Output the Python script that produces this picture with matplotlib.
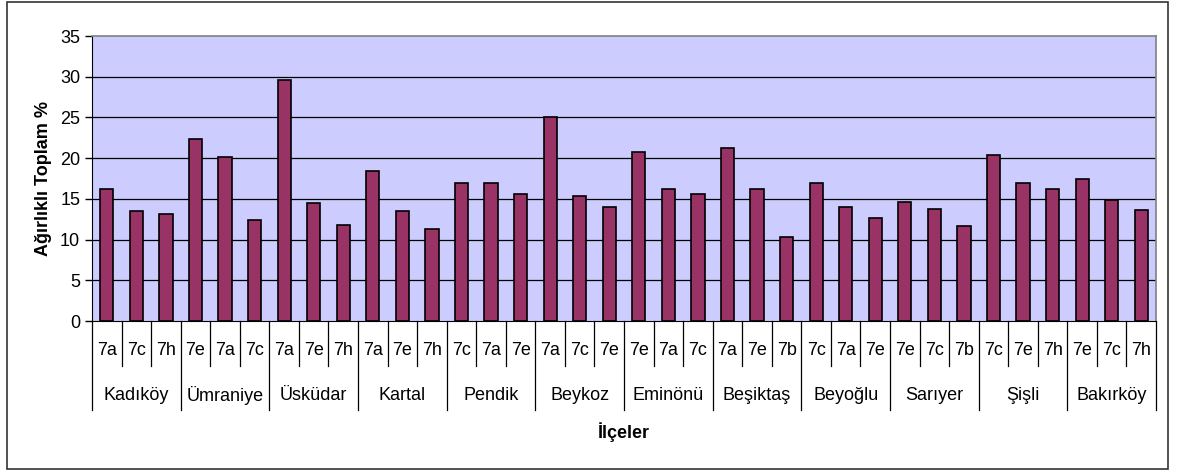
import numpy as np
import matplotlib as mpl
mpl.use('Agg')
import matplotlib.pyplot as plt
from matplotlib.patches import Rectangle

plt.rcParams['font.family'] = ['Liberation Sans', 'DejaVu Sans']

districts = ['Kadıköy', 'Ümraniye', 'Üsküdar', 'Kartal', 'Pendik', 'Beykoz',
             'Eminönü', 'Beşiktaş', 'Beyoğlu', 'Sarıyer', 'Şişli', 'Bakırköy']
codes = ['7a', '7c', '7h', '7e', '7a', '7c', '7a', '7e', '7h', '7a', '7e', '7h',
         '7c', '7a', '7e', '7a', '7c', '7e', '7e', '7a', '7c', '7a', '7e', '7b',
         '7c', '7a', '7e', '7e', '7c', '7b', '7c', '7e', '7h', '7e', '7c', '7h']
values = [16.2, 13.5, 13.1, 22.4, 20.2, 12.4, 29.6, 14.5, 11.8, 18.4, 13.5, 11.3,
          17.0, 17.0, 15.6, 25.0, 15.4, 14.0, 20.8, 16.2, 15.6, 21.2, 16.2, 10.3,
          17.0, 14.0, 12.6, 14.6, 13.8, 11.7, 20.4, 17.0, 16.2, 17.4, 14.8, 13.6]
per_group = 3

fig = plt.figure(figsize=(11.77, 4.70), dpi=100)
ax = fig.add_axes([0.0782, 0.317, 0.904, 0.6064])
ax.set_facecolor('#CCCCFF')

x = np.arange(len(values))
ax.bar(x, values, width=0.45, color='#993366', edgecolor='black', linewidth=1.2, zorder=3)

ax.set_xlim(-0.5, len(values) - 0.5)
ax.set_ylim(0, 35)
ax.set_yticks(np.arange(0, 36, 5))
ax.tick_params(axis='y', labelsize=13, length=5, direction='out', width=1)
ax.set_xticks([])
for y in range(5, 35, 5):
    ax.axhline(y, color='black', linewidth=0.9, zorder=1)

for side in ['top', 'right']:
    ax.spines[side].set_color('#808080')
    ax.spines[side].set_linewidth(1.2)
ax.spines['left'].set_color('black')
ax.spines['bottom'].set_color('black')

ax.set_ylabel('Ağırlıklı Toplam %', fontsize=13, fontweight='bold', labelpad=6)

# two level category axis
trans = ax.get_xaxis_transform()
for i, c in enumerate(codes):
    ax.text(i, -0.102, c, transform=trans, ha='center', va='center', fontsize=13)
for i in range(len(codes) + 1):
    bottom = -0.312 if i % per_group == 0 else -0.158
    ax.plot([i - 0.5, i - 0.5], [0, bottom], transform=trans, color='black',
            linewidth=0.9, clip_on=False)
for g, name in enumerate(districts):
    ax.text(g * per_group + 1, -0.26, name, transform=trans, ha='center',
            va='center', fontsize=13)

ax.text(0.5, -0.39, 'İlçeler', transform=ax.transAxes, ha='center', va='center',
        fontsize=13, fontweight='bold')

fig.patches.append(Rectangle((7 / 1177, 1 / 470), 1161 / 1177, 467 / 470,
                             transform=fig.transFigure, fill=False,
                             edgecolor='#333333', linewidth=1.2))

fig.savefig('out.png', dpi=100)
